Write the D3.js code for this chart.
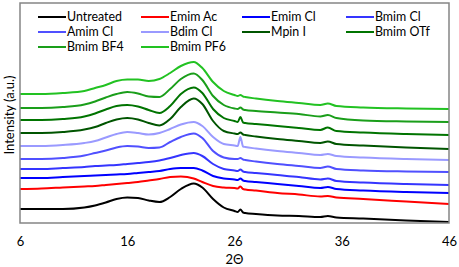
<!DOCTYPE html>
<html>
<head>
<meta charset="utf-8">
<script src="https://cdn.jsdelivr.net/npm/d3@7"></script>
<style>
  html, body { margin: 0; padding: 0; background: #fff; }
  svg { display: block; font-family: Lato, "Open Sans", sans-serif; }
</style>
</head>
<body>
<svg id="chart" width="459" height="267"></svg>
<script>
// 2-theta positions (degrees)
const twoTheta = [6, 8, 10, 12, 13, 14, 15, 16, 17, 18, 19, 20, 21, 22.2, 23, 24, 25, 26, 26.3, 26.55, 26.8, 27, 28, 30, 32, 34, 34.7, 35.5, 38, 42, 46];

// Offset intensities (a.u.)
const untreated = [14, 14, 14, 15.5, 17.5, 20.5, 24, 25.5, 25, 22.5, 21, 26, 34, 39.5, 35.5, 24, 15.5, 12, 11, 13.5, 10.5, 10, 9, 7.5, 7, 6, 7, 5.5, 4.5, 2.5, 1];
const emimAc    = [34, 34.5, 35.5, 36.5, 37, 38, 39, 40, 41, 42.5, 44, 46, 46.5, 44.5, 41, 37, 35.5, 35, 34.5, 36.5, 34, 33.5, 32.5, 30, 28.5, 26.5, 27, 25.5, 24, 21.5, 19];
const emimCl    = [45, 45, 46, 47, 47.5, 48, 48.5, 49, 50, 51, 52, 54, 55, 55, 52.5, 47, 44.5, 43.5, 43, 44.5, 42.5, 42, 41, 39, 37, 35, 36, 34, 32.5, 31, 30];
const bmimCl    = [54, 54, 55, 56, 57, 57.5, 58, 59, 60, 61, 62.5, 65, 68, 70, 67, 59, 54, 52.5, 52, 53.5, 51.5, 51, 50, 48, 46, 43.5, 44.5, 42, 40.5, 39, 38];
const amimCl    = [64, 64, 65, 67.5, 70, 72.5, 75.5, 77, 76.5, 75, 75.5, 81, 86, 89.5, 85, 72, 65.5, 64, 64, 65, 63.5, 63, 61.5, 59, 57, 55, 56.5, 54, 52.5, 51.5, 51];
const bdimCl    = [77, 77, 78, 80, 82, 85.5, 89, 91, 90, 88.5, 90, 94, 98.5, 101, 97, 86, 79, 77.5, 77, 86, 76.5, 76, 74.5, 72, 70, 68, 69, 67, 65.5, 64, 63];
const mpinI     = [90, 90, 91, 93.5, 96, 100, 103.5, 105, 103.5, 100, 97.5, 104, 116, 124.5, 119, 102, 92, 89.5, 89, 90.5, 88.5, 88, 86.5, 84, 82, 80, 81.5, 79, 77.5, 75.5, 74];
const bmimOTf   = [103, 103, 104, 106.5, 109.5, 113.5, 117, 118, 116.5, 113, 110, 117, 129, 135.5, 130, 114, 105, 102, 101, 106, 100.5, 100, 99, 97, 95, 93, 95.5, 92, 90.5, 89, 88];
const bmimBF4   = [115, 115, 116, 118.5, 121.5, 125.5, 129, 131, 129.5, 126.5, 126, 134, 144, 149.5, 143, 127, 118, 114.5, 114, 115.5, 113.5, 113, 112, 110.5, 109, 106.5, 108, 105, 102.5, 101.5, 101];
const bmimPF6   = [129, 129, 130, 132, 135, 138, 142, 143.5, 143.5, 142, 144, 150, 157, 161, 155, 141, 132, 128, 127, 128, 126.5, 126, 124.5, 122, 120, 118, 119.5, 117, 115.5, 114.5, 114];

const seriesNames = ["Untreated", "Emim Ac", "Emim Cl", "Bmim Cl", "Amim Cl", "Bdim Cl", "Mpin I", "Bmim OTf", "Bmim BF4", "Bmim PF6"];
const seriesValues = [untreated, emimAc, emimCl, bmimCl, amimCl, bdimCl, mpinI, bmimOTf, bmimBF4, bmimPF6];
const seriesColors = ["#000000", "#ff0000", "#0000ff", "#3535ff", "#5050ff", "#9a9aff", "#005500", "#007400", "#1a9e1a", "#22c222"];

const xTicks = [6, 16, 26, 36, 46];
const xTitle = "2\u0398";
const yTitle = "Intensity (a.u.)";

(function () {
const svg = d3.select("#chart");
const mLeft = 20, mRight = 449, mTop = 3, mBottom = 223;
const fs = 13;

const x = d3.scaleLinear().domain([6, 46]).range([mLeft, mRight]);
const y = d3.scaleLinear().domain([0, 220]).range([mBottom, mTop]);

const line = d3.line()
  .x((d, i) => x(twoTheta[i]))
  .y(d => y(d))
  .curve(d3.curveMonotoneX);

svg.append("g").selectAll("path")
  .data(seriesValues)
  .join("path")
  .attr("d", d => line(d))
  .attr("fill", "none")
  .attr("stroke", (d, i) => seriesColors[i])
  .attr("stroke-width", 2)
  .attr("stroke-linejoin", "round");

// frame
svg.append("rect")
  .attr("x", mLeft).attr("y", mTop)
  .attr("width", mRight - mLeft).attr("height", mBottom - mTop)
  .attr("fill", "none").attr("stroke", "#858585").attr("stroke-width", 1.5);

// x axis
const xAxis = svg.append("g")
  .attr("transform", `translate(0,${mBottom})`)
  .call(d3.axisBottom(x).tickValues(xTicks).tickSize(0).tickPadding(14).tickFormat(d3.format("d")));
xAxis.select(".domain").remove();
xAxis.selectAll("text").attr("font-size", fs).attr("fill", "#000")
  .attr("font-family", "Lato, sans-serif");

svg.append("text")
  .attr("x", x(26)).attr("y", 264)
  .attr("text-anchor", "middle").attr("font-size", fs)
  .text(xTitle);

svg.append("text")
  .attr("transform", `translate(14,${(mTop + mBottom) / 2 + 2}) rotate(-90)`)
  .attr("text-anchor", "middle").attr("font-size", fs)
  .text(yTitle);

// legend
const colX = [38, 141, 242, 346];
const rowY = [17, 32, 47];
const lg = svg.append("g").selectAll("g")
  .data(seriesNames)
  .join("g")
  .attr("transform", (d, i) => `translate(${colX[i % 4]},${rowY[Math.floor(i / 4)]})`);
lg.append("line")
  .attr("x1", 0).attr("x2", 28).attr("y1", 0).attr("y2", 0)
  .attr("stroke", (d, i) => seriesColors[i]).attr("stroke-width", 2);
lg.append("text")
  .attr("x", 29).attr("y", 0).attr("dy", "0.36em")
  .attr("font-size", 12.4)
  .text(d => d);
})();
</script>
</body>
</html>
